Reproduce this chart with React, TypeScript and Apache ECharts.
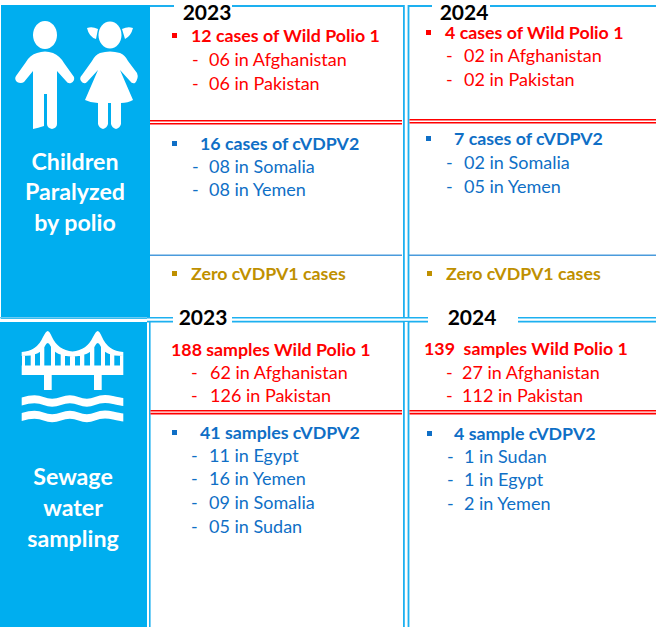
import React, { useEffect, useRef } from "react";
import * as echarts from "echarts";

const FONT = "Lato, Carlito, Calibri, sans-serif";
const RED = "#FF0000";
const BLUE = "#0F6FC6";
const GOLD = "#BF9000";
const CYAN = "#00AEEF";
const LINE = "#1DB0F0";

// ---- content ----
const years = ["2023", "2024"];
const sideTop = ["Children", "Paralyzed", "by polio"];
const sideBottom = ["Sewage", "water", "sampling"];
const zeroLabel = "Zero cVDPV1 cases";

const wild23Head = "12 cases of Wild Polio 1";
const wild23Items = ["06 in Afghanistan", "06 in Pakistan"];
const wild24Head = "4 cases of Wild Polio 1";
const wild24Items = ["02 in Afghanistan", "02 in Pakistan"];
const vd23Head = "16 cases of cVDPV2";
const vd23Items = ["08 in Somalia", "08 in Yemen"];
const vd24Head = "7 cases of cVDPV2";
const vd24Items = ["02 in Somalia", "05 in Yemen"];

const sew23Head = "188 samples Wild Polio 1";
const sew23Items = ["62 in Afghanistan", "126 in Pakistan"];
const sew24Head = "139  samples Wild Polio 1";
const sew24Items = ["27 in Afghanistan", "112 in Pakistan"];
const sv23Head = "41 samples cVDPV2";
const sv23Items = ["11 in Egypt", "16 in Yemen", "09 in Somalia", "05 in Sudan"];
const sv24Head = "4 sample cVDPV2";
const sv24Items = ["1 in Sudan", "1 in Egypt", "2 in Yemen"];

// ---- icons ----
const BOY =
  "M37 53 Q45 50 53 53 Q60 56 64 63 L74 77 Q75 81 71 83 Q68 84 66 81 L57 71 L57 124 Q57 128 52 129 Q47 128 47 124 L47 94 L44 94 L44 126 Q38 128 33 129 L33 71 L24 82 Q21 84 17 82 Q14 79 16 76 L26 62 Q30 55 37 53 Z";
const GIRL =
  "M100 53 Q110 50 120 53 Q125 55 128 61 L137 73 Q139 78 135 83 Q132 84 130 81 L120 70 L133 100 Q128 103 121 103 L121 124 Q120 128 116 129 Q112 128 111 124 L111 103 L108 103 L108 124 Q107 128 103 129 Q99 128 98 124 L98 103 Q91 103 85 100 L98 70 L87 82 Q84 85 81 81 Q79 78 82 75 L92 61 Q95 55 100 53 Z M87 28 Q92 26 98 29 L96 39 Q89 37 87 28 Z M122 29 Q128 26 133 28 Q131 36 125 39 Z";
const hangers = [
  [22, 25, 353], [30.7, 35, 352], [40, 44.3, 347], [51, 55, 347], [60.7, 65, 352], [70, 75, 353],
  [80, 84.3, 352], [90, 94.3, 347], [101, 105, 347], [110, 114.3, 352], [120, 123.3, 353],
];
const BRIDGE =
  "M21.7 365.5 H123.3 V375 H101.7 V390 H94 V375 H51.7 V390 H44 V375 H21.7 Z " +
  "M21.700 352 Q37 351 43 337 Q46 331 47.700 331 Q49.500 331 52 337 Q58 350 72.500 351.500 Q87 350 93 337 Q96 331 97.700 331 Q99.500 331 102 337 Q108 351 123.300 352 V356 Q104 356 100.500 346 Q97.700 340 95 346 Q90 356 72.500 356.500 Q55 356 50.500 346 Q47.700 340 45 346 Q41 356 21.700 356 Z " +
  hangers.map(([a, b, t]) => `M${a} ${t} H${b} V366 H${a} Z`).join(" ");
const WAVES =
  "M21.7 397.5 Q35 393.5 43.5 397 Q52 400.5 61 397 Q70 393.5 78.5 397 Q87 400.5 95 397 Q103 393.5 113 396 Q120 397.5 123.3 398 V406 Q120 405.5 113 404 Q103 401.5 95 405 Q87 408.5 78.5 405 Q70 401.5 61 405 Q52 408.5 43.5 405 Q35 401.5 21.7 405.5 Z " +
  "M21.7 413 Q35 409 43.5 412.5 Q52 416 61 412.5 Q70 409 78.5 412.5 Q87 416 95 412.5 Q103 409 113 411.5 Q120 413 123.3 413.5 V421.5 Q120 421 113 419.5 Q103 417 95 420.5 Q87 424 78.5 420.5 Q70 417 61 420.5 Q52 424 43.5 420.5 Q35 417 21.7 421 Z";

echarts.graphic.registerShape("boy", echarts.graphic.extendPath(BOY, {}));
echarts.graphic.registerShape("girl", echarts.graphic.extendPath(GIRL, {}));
echarts.graphic.registerShape("bridge", echarts.graphic.extendPath(BRIDGE, {}));
echarts.graphic.registerShape("waves", echarts.graphic.extendPath(WAVES, {}));

const txt = (x: number, y: number, text: string, fill: string, size: number, bold = false, align = "left") => ({
  type: "text",
  x,
  y: y - 0.7,
  silent: true,
  style: { text, fill, fontSize: size, fontFamily: FONT, fontWeight: bold ? "bold" : "normal", align, verticalAlign: "middle" },
});
const rect = (x: number, y: number, width: number, height: number, fill: string) => ({
  type: "rect",
  silent: true,
  shape: { x, y, width, height },
  style: { fill },
});

const HEAD = 17.8;
const ITEM = 18;
const SIDE = 23.2;

function block(
  color: string,
  head: string,
  items: string[],
  headX: number,
  headY: number,
  bulletX: number | null,
  dashX: number,
  itemX: number,
  ys: number[],
) {
  const out: any[] = [txt(headX, headY, head, color, HEAD, true)];
  if (bulletX !== null) out.push(rect(bulletX, headY - 3, 5, 5, color));
  items.forEach((t, i) => {
    out.push(txt(dashX, ys[i], "-", color, ITEM));
    out.push(txt(itemX, ys[i], t, color, ITEM));
  });
  return out;
}

function doubleH(x1: number, x2: number, y: number, h: number, color: string) {
  return [rect(x1, y, x2 - x1, h, color), rect(x1, y + 1.6, x2 - x1, h - 3.2, "#FFFFFF")];
}
function doubleV(x: number, y1: number, y2: number, color: string) {
  return [rect(x, y1, 6.4, y2 - y1, color), rect(x + 1.8, y1, 2.8, y2 - y1, "#FFFFFF")];
}

function buildGraphics() {
  const e: any[] = [];
  // side panels
  e.push(rect(1, 5, 149, 314, CYAN));
  e.push(rect(0, 322, 147, 305, CYAN));
  e.push(rect(0, 317, 150, 1.5, "#6CCBF3"));
  // grid lines
  e.push(rect(150, 5, 506, 2, LINE));
  e.push(...doubleH(147, 656, 317, 5.4, LINE));
  e.push(rect(149, 322, 1.6, 305, LINE));
  e.push(...doubleV(403, 5, 317, LINE));
  e.push(...doubleV(403, 322, 627, LINE));
  e.push(rect(150, 254.5, 252, 1.5, "#4A9BDC"));
  e.push(rect(409, 254.5, 247, 1.5, "#4A9BDC"));
  e.push(...doubleH(150, 402, 120, 4.6, RED));
  e.push(...doubleH(409.5, 656, 119, 4.6, RED));
  e.push(...doubleH(150.5, 402, 410, 4.4, RED));
  e.push(...doubleH(409.5, 656, 410, 4.4, RED));
  // header gaps
  e.push(rect(174, 0, 58, 9, "#FFFFFF"));
  e.push(rect(432, 0, 58, 9, "#FFFFFF"));
  e.push(rect(173, 314, 59, 10, "#FFFFFF"));
  e.push(rect(428, 314, 90, 10, "#FFFFFF"));
  // headers
  e.push(txt(207, 12.2, years[0], "#000000", 21, true, "center"));
  e.push(txt(464, 12.2, years[1], "#000000", 21, true, "center"));
  e.push(txt(203, 317.5, years[0], "#000000", 21, true, "center"));
  e.push(txt(472, 317.5, years[1], "#000000", 21, true, "center"));
  // side labels
  sideTop.forEach((t, i) => e.push(txt(75, [162, 192, 223][i], t, "#FFFFFF", SIDE, true, "center")));
  sideBottom.forEach((t, i) => e.push(txt(73, [477, 508, 539][i], t, "#FFFFFF", SIDE, true, "center")));
  // icons
  const white = { fill: "#FFFFFF" };
  e.push({ type: "boy", silent: true, style: white });
  e.push({ type: "girl", silent: true, style: white });
  e.push({ type: "ellipse", silent: true, shape: { cx: 45, cy: 35, rx: 12, ry: 14 }, style: white });
  e.push({ type: "ellipse", silent: true, shape: { cx: 110, cy: 35, rx: 11.5, ry: 13.5 }, style: white });
  e.push({ type: "bridge", silent: true, style: white });
  e.push({ type: "waves", silent: true, style: white });
  // top row
  e.push(...block(RED, wild23Head, wild23Items, 191, 36, 172, 192, 209, [60, 84]));
  e.push(...block(RED, wild24Head, wild24Items, 445, 33, 426, 446, 464, [56, 80]));
  e.push(...block(BLUE, vd23Head, vd23Items, 200, 144, 172, 192, 209, [167, 190]));
  e.push(...block(BLUE, vd24Head, vd24Items, 454, 139, 426, 446, 464, [163, 187]));
  e.push(...block(GOLD, zeroLabel, [], 191, 274, 172, 0, 0, []));
  e.push(...block(GOLD, zeroLabel, [], 446, 274, 427, 0, 0, []));
  // lower row
  e.push(...block(RED, sew23Head, sew23Items, 171, 350, null, 191, 210, [373, 396]));
  e.push(...block(RED, sew24Head, sew24Items, 424, 349, null, 446, 462, [373, 396]));
  e.push(...block(BLUE, sv23Head, sv23Items, 200, 433, 172, 191, 209, [456, 479, 503, 527]));
  e.push(...block(BLUE, sv24Head, sv24Items, 454, 434, 427, 447, 464, [457, 480, 504]));
  return e;
}

export default function App() {
  const ref = useRef<HTMLDivElement>(null);
  useEffect(() => {
    const chart = echarts.init(ref.current!, undefined, { renderer: "svg" });
    chart.setOption({ animation: false, backgroundColor: "#FFFFFF", graphic: { elements: buildGraphics() } });
    return () => chart.dispose();
  }, []);
  return <div ref={ref} style={{ position: "absolute", left: 0, top: 0, width: 656, height: 627 }} />;
}
